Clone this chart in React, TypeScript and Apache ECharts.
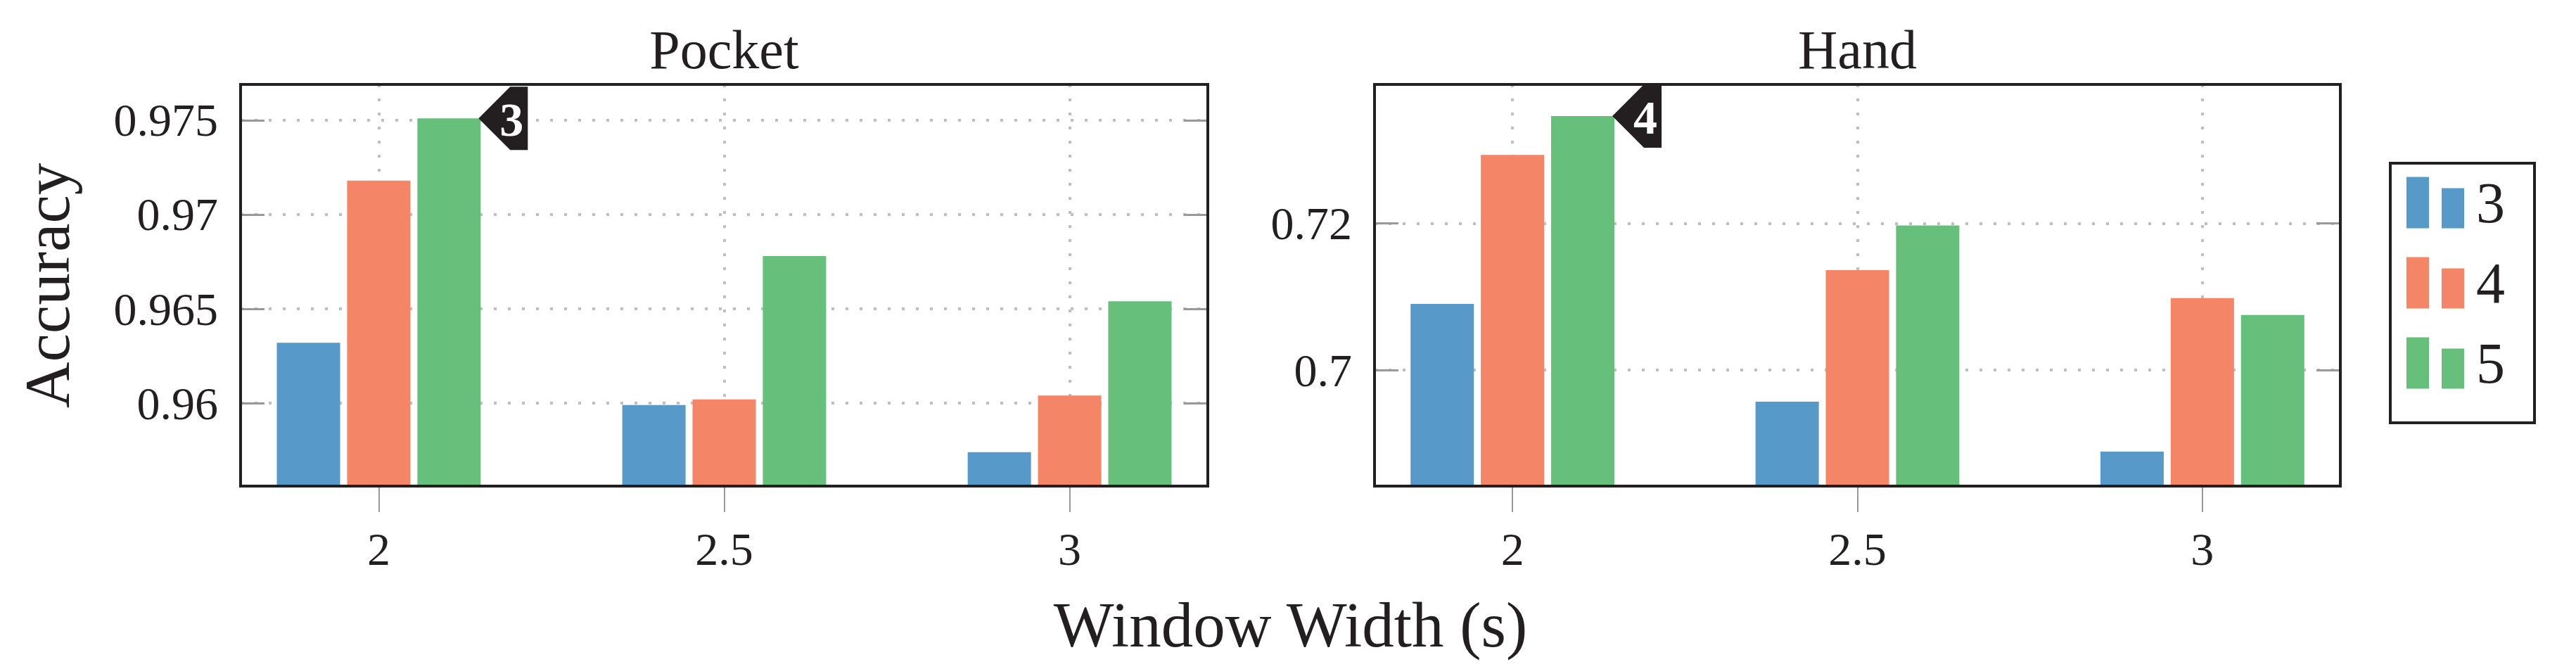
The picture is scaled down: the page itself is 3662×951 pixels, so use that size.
import React, { useEffect, useRef } from "react";
import * as echarts from "echarts";

// ---- data ----
const windows = [2, 2.5, 3];
const seriesNames = ["3", "4", "5"];
const pocket3 = [0.9632, 0.9599, 0.9574];
const pocket4 = [0.9718, 0.9602, 0.9604];
const pocket5 = [0.9751, 0.9678, 0.9654];
const hand3 = [0.709, 0.6957, 0.6889];
const hand4 = [0.7293, 0.7136, 0.7098];
const hand5 = [0.7346, 0.7197, 0.7075];
const pocketTicks = [0.96, 0.965, 0.97, 0.975];
const handTicks = [0.7, 0.72];
const panelTitles = ["Pocket", "Hand"];
const bestMarks = ["3", "4"];

// ---- style / layout ----
const FONT = "'Liberation Serif', 'Times New Roman', serif";
const INK = "#231f20";
const COLORS = ["#5799c9", "#f58567", "#66c07c"];
const G = [
  { left: 342, top: 120, width: 1375, height: 571 },
  { left: 1954, top: 120, width: 1373, height: 571 },
];
const YR = [
  [0.9556, 0.9769],
  [0.6842, 0.7389],
];

const fmt = (v: number) => String(+Number(v).toFixed(3));

export default function App() {
  const ref = useRef<HTMLDivElement>(null);
  useEffect(() => {
    if (!ref.current) return;
    const chart = echarts.init(ref.current, null, { renderer: "svg" });
    const panels = [
      { vals: [pocket3, pocket4, pocket5], ticks: pocketTicks },
      { vals: [hand3, hand4, hand5], ticks: handTicks },
    ];
    const dotted = { color: "#bfbfbf", width: 4, type: [4, 16] as any };
    const xAxis: any[] = [];
    const yAxis: any[] = [];
    const series: any[] = [];
    panels.forEach((p, gi) => {
      xAxis.push({
        type: "value",
        gridIndex: gi,
        min: 1.8,
        max: 3.2,
        axisLine: { show: false },
        axisTick: { show: true, customValues: windows, length: 37, lineStyle: { color: "#999", width: 2 } },
        axisLabel: { customValues: windows, margin: 56, fontSize: 66, fontFamily: FONT, color: INK, formatter: fmt },
        splitLine: { show: true, lineStyle: dotted },
      });
      yAxis.push({
        type: "value",
        gridIndex: gi,
        position: "left",
        min: YR[gi][0],
        max: YR[gi][1],
        axisLine: { show: false },
        axisTick: { show: true, inside: true, customValues: p.ticks, length: 34, lineStyle: { color: "#999", width: 3 } },
        axisLabel: { customValues: p.ticks, margin: 32, fontSize: 66, fontFamily: FONT, color: INK, formatter: fmt },
        splitLine: { show: true, lineStyle: dotted },
      });
      yAxis.push({
        type: "value",
        gridIndex: gi,
        position: "right",
        min: YR[gi][0],
        max: YR[gi][1],
        axisLine: { show: false },
        axisTick: { show: true, inside: true, customValues: p.ticks, length: 34, lineStyle: { color: "#999", width: 3 } },
        axisLabel: { show: false },
        splitLine: { show: false },
      });
      p.vals.forEach((vals, si) => {
        const s: any = {
          type: "bar",
          name: seriesNames[si],
          xAxisIndex: gi,
          yAxisIndex: gi * 2,
          barWidth: 90,
          barGap: "11%",
          itemStyle: { color: COLORS[si] },
          data: windows.map((w, i) => [w, vals[i]]),
          z: 3,
        };
        if (si === 2) {
          s.markPoint = {
            symbol: "path://M0,45 L45,0 L70,0 L70,90 L45,90 Z",
            symbolSize: [70, 90],
            symbolOffset: [77, 0],
            itemStyle: { color: INK },
            label: {
              show: true,
              formatter: bestMarks[gi],
              color: "#fff",
              fontSize: 68,
              fontWeight: "bold",
              fontFamily: FONT,
              offset: [12, 2],
            },
            data: [{ coord: [windows[0], vals[0]] }],
          };
        }
        series.push(s);
      });
    });

    const graphic: any[] = [];
    G.forEach((g, gi) => {
      graphic.push({
        type: "rect",
        silent: true,
        z: 100,
        shape: { x: g.left, y: g.top, width: g.width, height: g.height },
        style: { fill: "transparent", stroke: INK, lineWidth: 4 },
      });
      graphic.push({
        type: "text",
        x: g.left + g.width / 2,
        y: 70,
        style: { text: panelTitles[gi], fontSize: 78, fontFamily: FONT, fill: INK, align: "center", verticalAlign: "middle" },
      });
    });
    graphic.push({
      type: "text",
      x: (G[0].left + G[1].left + G[1].width) / 2,
      y: 888,
      style: { text: "Window Width (s)", fontSize: 91, fontFamily: FONT, fill: INK, align: "center", verticalAlign: "middle" },
    });
    graphic.push({
      type: "text",
      x: 67,
      y: 406,
      rotation: Math.PI / 2,
      style: { text: "Accuracy", fontSize: 91, fontFamily: FONT, fill: INK, align: "center", verticalAlign: "middle" },
    });

    chart.setOption({
      animation: false,
      backgroundColor: "#fff",
      grid: G.map((g) => ({ ...g, show: false, containLabel: false })),
      xAxis,
      yAxis,
      series,
      legend: {
        data: seriesNames,
        orient: "vertical",
        left: 3398,
        top: 232,
        padding: [15, 42, 44, 23],
        itemGap: 32,
        itemWidth: 82,
        itemHeight: 73,
        icon: "path://M0,0 L32,0 L32,73 L0,73 Z M50,16 L82,16 L82,73 L50,73 Z",
        borderColor: INK,
        borderWidth: 4,
        selectedMode: false,
        textStyle: { fontSize: 82, fontFamily: FONT, color: INK, padding: [0, 0, 0, 12], lineHeight: 73 },
      },
      graphic,
    });
    return () => chart.dispose();
  }, []);
  return <div ref={ref} style={{ position: "absolute", left: 0, top: 0, width: 3662, height: 951 }} />;
}
